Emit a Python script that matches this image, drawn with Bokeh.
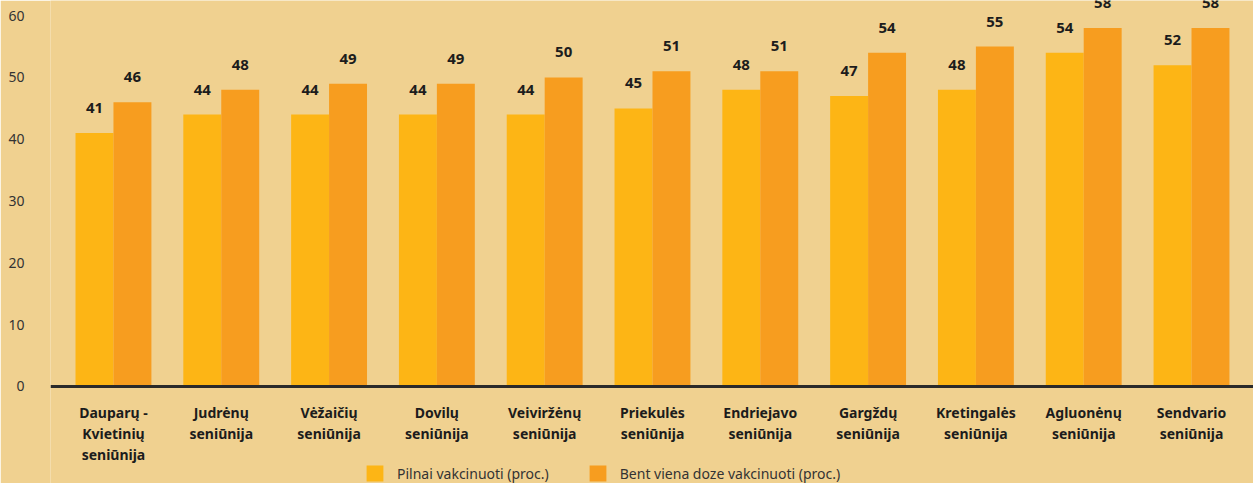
from bokeh.plotting import figure
from bokeh.models import (ColumnDataSource, FixedTicker, Legend, LegendItem,
                          Range1d, Span)
from bokeh.transform import dodge
from bokeh.core.properties import value
from bokeh.embed import file_html
from bokeh.resources import INLINE

categories = [
    "Dauparų -\nKvietinių\nseniūnija",
    "Judrėnų\nseniūnija",
    "Vėžaičių\nseniūnija",
    "Dovilų\nseniūnija",
    "Veiviržėnų\nseniūnija",
    "Priekulės\nseniūnija",
    "Endriejavo\nseniūnija",
    "Gargždų\nseniūnija",
    "Kretingalės\nseniūnija",
    "Agluonėnų\nseniūnija",
    "Sendvario\nseniūnija",
]
pilnai = [41, 44, 44, 44, 44, 45, 48, 47, 48, 54, 52]
bent = [46, 48, 49, 49, 50, 51, 51, 54, 55, 58, 58]
y_ticks = [0, 10, 20, 30, 40, 50, 60]
legend_labels = ["Pilnai vakcinuoti (proc.)", "Bent viena doze vakcinuoti (proc.)"]

BG = "#F0D190"
C1 = "#FDB515"
C2 = "#F79D1F"
TXT = "#1c1c1c"
FONT = "Noto Sans"

idx = list(range(len(categories)))
src = ColumnDataSource(dict(
    x=idx,
    cat=categories,
    zero=[0] * len(idx),
    pilnai=pilnai,
    bent=bent,
    pilnai_lbl=[str(v) for v in pilnai],
    bent_lbl=[str(v) for v in bent],
))

p = figure(
    width=1253, height=483,
    x_range=Range1d(-0.584, 10.575), y_range=Range1d(-15.70, 62.46),
    output_backend="svg", toolbar_location=None,
    min_border_left=50, min_border_right=0, min_border_top=0, min_border_bottom=0,
)
p.background_fill_color = BG
p.border_fill_color = BG
p.outline_line_color = None
p.grid.grid_line_color = None
p.xaxis.visible = False

bw = 0.352
r1 = p.vbar(x=dodge("x", -bw / 2, range=p.x_range), top="pilnai", bottom=0, width=bw,
            source=src, fill_color=C1, line_color=None)
r2 = p.vbar(x=dodge("x", bw / 2, range=p.x_range), top="bent", bottom=0, width=bw,
            source=src, fill_color=C2, line_color=None)

p.add_layout(Span(location=0, dimension="width", line_color="#2a2a2a", line_width=3))

p.text(x=dodge("x", -bw / 2, range=p.x_range), y="pilnai", text="pilnai_lbl", source=src,
       text_align="center", text_baseline="middle", y_offset=-25,
       text_font=value(FONT), text_font_style="bold", text_font_size="15px",
       text_color=TXT)
p.text(x=dodge("x", bw / 2, range=p.x_range), y="bent", text="bent_lbl", source=src,
       text_align="center", text_baseline="middle", y_offset=-25,
       text_font=value(FONT), text_font_style="bold", text_font_size="15px",
       text_color=TXT)

# category labels under the axis line
p.text(x="x", y="zero", text="cat", source=src,
       text_align="center", text_baseline="top", y_offset=17,
       text_font=value(FONT), text_font_style="bold", text_font_size="14px",
       text_line_height=1.1, text_color=TXT)

# y axis
p.yaxis.ticker = FixedTicker(ticks=y_ticks)
p.yaxis.axis_line_color = None
p.yaxis.major_tick_line_color = None
p.yaxis.minor_tick_line_color = None
p.yaxis.major_label_standoff = 20
p.yaxis.major_label_text_font = FONT
p.yaxis.major_label_text_font_size = "14px"
p.yaxis.major_label_text_color = "#333333"

legend = Legend(items=[LegendItem(label=legend_labels[0], renderers=[r1]),
                       LegendItem(label=legend_labels[1], renderers=[r2])],
                orientation="horizontal", location=(314, 0),
                background_fill_alpha=0, border_line_color=None,
                glyph_width=21, glyph_height=20, label_standoff=12, spacing=38,
                padding=0, margin=0,
                label_text_font=FONT, label_text_font_size="14px",
                label_text_color="#333333")
p.add_layout(legend, "center")

open("out.html", "w").write(file_html(p, INLINE))
